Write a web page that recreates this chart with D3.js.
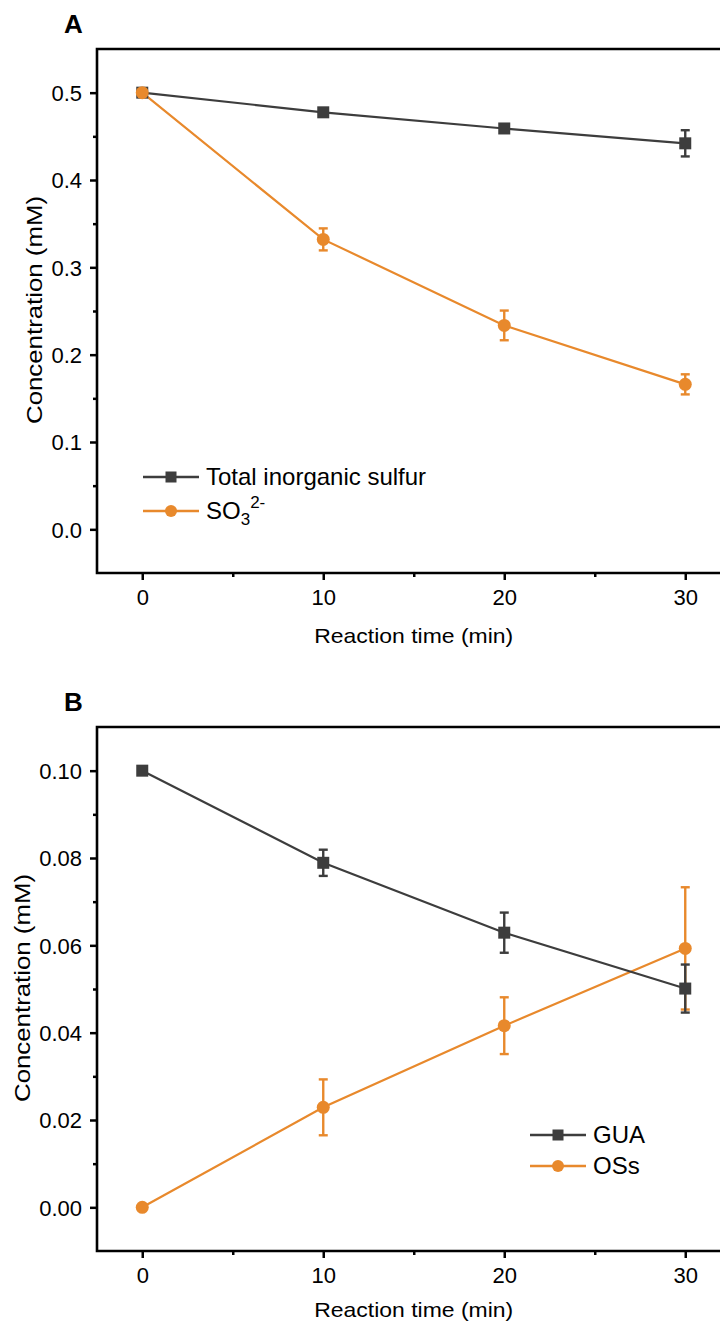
<!DOCTYPE html>
<html>
<head>
<meta charset="utf-8">
<script src="https://cdn.jsdelivr.net/npm/d3@7/dist/d3.min.js"></script>
<style>
  html, body { margin: 0; padding: 0; background: #fff; }
  svg { display: block; }
  text { font-family: "Liberation Sans", Arial, sans-serif; fill: #000; }
</style>
</head>
<body>
<svg id="chart" width="720" height="1327"></svg>
<script>
// ---------- data ----------
const times = [0, 10, 20, 30];
const xTicks = [0, 10, 20, 30];
const xMinorTicks = [5, 15, 25];

// Panel A
const totalSulfur = [0.500, 0.4775, 0.4590, 0.4420];
const totalSulfurErr = [0.000, 0.003, 0.003, 0.015];
const sulfite = [0.500, 0.332, 0.2335, 0.1660];
const sulfiteErr = [0.000, 0.0126, 0.017, 0.0115];
const yTicksA = [0.0, 0.1, 0.2, 0.3, 0.4, 0.5];
const yMinorA = [0.05, 0.15, 0.25, 0.35, 0.45];

// Panel B
const gua = [0.100, 0.0789, 0.0629, 0.0501];
const guaErr = [0.000, 0.0030, 0.0046, 0.0055];
const oss = [0.000, 0.0229, 0.0416, 0.0593];
const ossErr = [0.000, 0.0064, 0.0065, 0.0140];
const yTicksB = [0.00, 0.02, 0.04, 0.06, 0.08, 0.10];
const yMinorB = [0.01, 0.03, 0.05, 0.07, 0.09];

const GRAY = "#3d3d3d";
const ORANGE = "#e8892c";

const svg = d3.select("#chart");

function drawPanel(cfg) {
  const left = 97, right = 730.5, top = cfg.top, bottom = cfg.top + 524;
  const x = d3.scaleLinear().domain([-2.5, 32.5]).range([left, right]);
  const y = d3.scaleLinear().domain(cfg.yDomain).range([bottom, top]);
  const g = svg.append("g");

  // panel letter
  g.append("text").attr("x", 64).attr("y", top - 16)
    .style("font-size", "26px").style("font-weight", "bold").text(cfg.letter);

  // axes
  const xAxis = g.append("g").attr("transform", `translate(0,${bottom})`)
    .call(d3.axisBottom(x).tickValues(xTicks).tickSize(7).tickSizeOuter(0).tickFormat(d3.format("d")));
  xAxis.select(".domain").remove();
  xAxis.selectAll("line").attr("stroke", "#000").attr("stroke-width", 2.5);
  xAxis.selectAll("text").attr("y", 32).attr("dy", null)
    .style("font-size", "22px").attr("font-family", null);
  g.append("g").attr("transform", `translate(0,${bottom})`)
    .call(d3.axisBottom(x).tickValues(xMinorTicks).tickSize(4).tickFormat(""))
    .call(s => s.select(".domain").remove())
    .selectAll("line").attr("stroke", "#000").attr("stroke-width", 2.5);

  const yAxis = g.append("g").attr("transform", `translate(${left},0)`)
    .call(d3.axisLeft(y).tickValues(cfg.yTicks).tickSize(7).tickSizeOuter(0).tickFormat(d3.format(cfg.fmt)));
  yAxis.select(".domain").remove();
  yAxis.selectAll("line").attr("stroke", "#000").attr("stroke-width", 2.5);
  yAxis.selectAll("text").attr("x", -15).attr("dy", "0.35em")
    .style("font-size", "22px").attr("font-family", null);
  g.append("g").attr("transform", `translate(${left},0)`)
    .call(d3.axisLeft(y).tickValues(cfg.yMinor).tickSize(4).tickFormat(""))
    .call(s => s.select(".domain").remove())
    .selectAll("line").attr("stroke", "#000").attr("stroke-width", 2.5);

  // frame (left, bottom, top)
  g.append("path")
    .attr("d", `M${right + 20},${top}H${left}V${bottom}H${right + 20}`)
    .attr("fill", "none").attr("stroke", "#000").attr("stroke-width", 2.6);

  // axis titles
  g.append("text").attr("x", (x(0) + x(30)) / 2).attr("y", bottom + cfg.xTitleOffset)
    .attr("text-anchor", "middle").style("font-size", "21px")
    .attr("textLength", 199).attr("lengthAdjust", "spacingAndGlyphs")
    .text("Reaction time (min)");
  g.append("text")
    .attr("transform", `translate(${cfg.yTitleX},${(top + bottom) / 2 - 1}) rotate(-90)`)
    .attr("text-anchor", "middle").style("font-size", "22px")
    .attr("textLength", 228).attr("lengthAdjust", "spacingAndGlyphs")
    .text("Concentration (mM)");

  const line = d3.line().x((d, i) => x(times[i])).y(d => y(d));

  // lines
  cfg.series.forEach(s => {
    g.append("path").datum(s.values).attr("d", line)
      .attr("fill", "none").attr("stroke", s.color).attr("stroke-width", 2.2);
  });

  // error bars + markers
  cfg.series.forEach(s => {
    const eb = g.append("g");
    s.values.forEach((v, i) => {
      const e = s.err[i];
      if (!e) return;
      const cx = x(times[i]);
      eb.append("line").attr("x1", cx).attr("x2", cx).attr("y1", y(v + e)).attr("y2", y(v - e))
        .attr("stroke", s.color).attr("stroke-width", 2.4);
      [v + e, v - e].forEach(w => {
        eb.append("line").attr("x1", cx - 4.5).attr("x2", cx + 4.5).attr("y1", y(w)).attr("y2", y(w))
          .attr("stroke", s.color).attr("stroke-width", 2.4);
      });
    });
    const mk = g.append("g");
    s.values.forEach((v, i) => {
      const cx = x(times[i]), cy = y(v);
      if (s.shape === "square") {
        mk.append("rect").attr("x", cx - 6).attr("y", cy - 6).attr("width", 12).attr("height", 12)
          .attr("fill", s.color);
      } else {
        mk.append("circle").attr("cx", cx).attr("cy", cy).attr("r", 6.5).attr("fill", s.color);
      }
    });
  });

  // legend
  cfg.series.forEach(s => {
    const ly = cfg.legend.y[s.legendRow], lx = cfg.legend.x;
    const lg = g.append("g");
    lg.append("line").attr("x1", lx).attr("x2", lx + 56).attr("y1", ly).attr("y2", ly)
      .attr("stroke", s.color).attr("stroke-width", 2.4);
    if (s.shape === "square") {
      lg.append("rect").attr("x", lx + 28 - 5.5).attr("y", ly - 5.5).attr("width", 11).attr("height", 11)
        .attr("fill", s.color);
    } else {
      lg.append("circle").attr("cx", lx + 28).attr("cy", ly).attr("r", 6).attr("fill", s.color);
    }
    const t = lg.append("text").attr("x", lx + 63).attr("y", ly + 8).style("font-size", "24px");
    s.label(t);
  });
}

drawPanel({
  letter: "A", top: 49, yDomain: [-0.05, 0.55], yTicks: yTicksA, yMinor: yMinorA, fmt: ".1f",
  xTitleOffset: 70, yTitleX: 42,
  legend: { x: 143, y: [477, 511] },
  series: [
    { values: totalSulfur, err: totalSulfurErr, color: GRAY, shape: "square", legendRow: 0,
      label: t => t.text("Total inorganic sulfur") },
    { values: sulfite, err: sulfiteErr, color: ORANGE, shape: "circle", legendRow: 1,
      label: t => {
        t.append("tspan").text("SO");
        t.append("tspan").attr("dy", 6).style("font-size", "17px").text("3");
        t.append("tspan").attr("dy", -17).style("font-size", "17px").text("2-");
      } }
  ]
});

drawPanel({
  letter: "B", top: 727, yDomain: [-0.01, 0.11], yTicks: yTicksB, yMinor: yMinorB, fmt: ".2f",
  xTitleOffset: 66, yTitleX: 30,
  legend: { x: 530, y: [1135, 1166] },
  series: [
    { values: oss, err: ossErr, color: ORANGE, shape: "circle", legendRow: 1, label: t => t.text("OSs") },
    { values: gua, err: guaErr, color: GRAY, shape: "square", legendRow: 0, label: t => t.text("GUA") }
  ]
});
</script>
</body>
</html>
